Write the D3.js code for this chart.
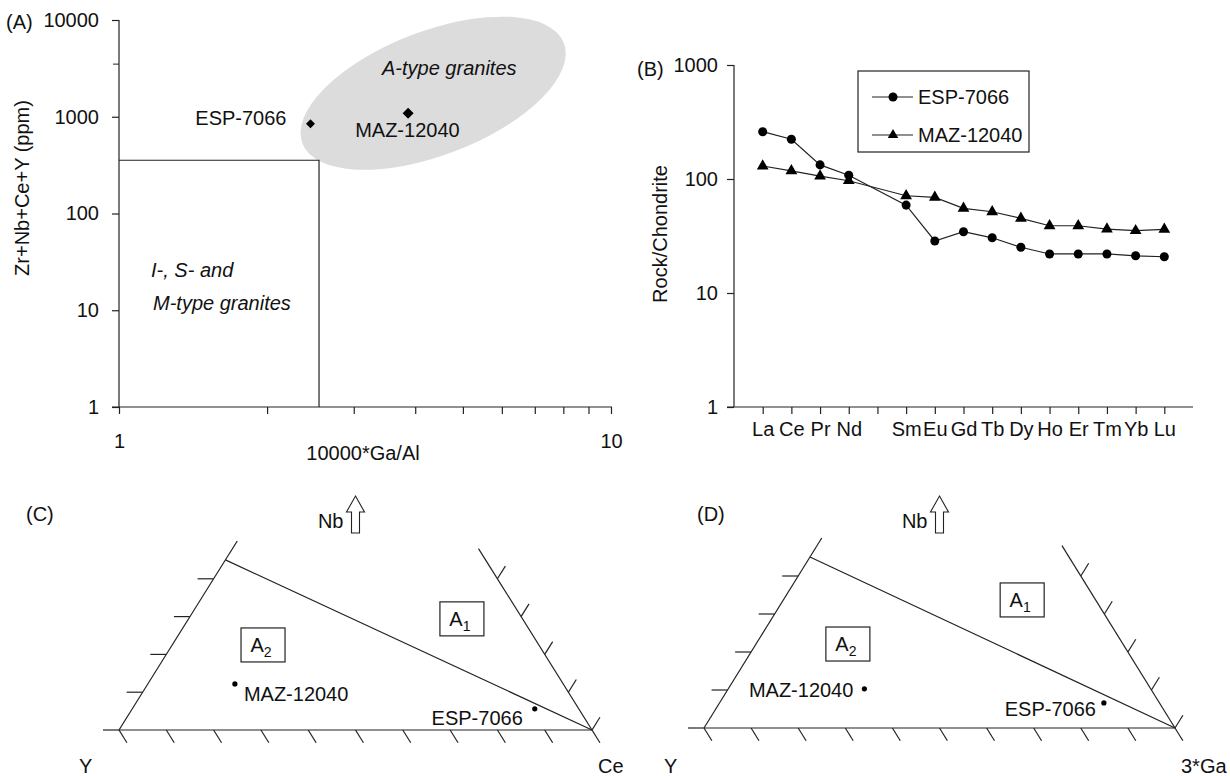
<!DOCTYPE HTML>
<html lang="en">
<head>
    <meta charset="utf-8">
    <title>Granite discrimination diagrams</title>
    <script src="https://cdnjs.cloudflare.com/ajax/libs/d3/7.8.5/d3.min.js"></script>
    <style>
      body { margin: 0; background: #fff; }
      #chart { width: 1230px; height: 776px; }
      text { font-family: "Liberation Sans", Arial, sans-serif; fill: #111; }
    </style>
</head>
<body>
    <div id="chart"></div>
</body>
<script>
// ---- data ----
const sampleNames = ["ESP-7066", "MAZ-12040"];

// (A) Whalen et al. plot
const gaAl = [2.45, 3.87];            // 10000*Ga/Al
const zrNbCeY = [845, 1090];          // Zr+Nb+Ce+Y (ppm)
const gaAlLimit = 2.55;               // I-, S-, M-type field limits
const zrSumLimit = 355;
const aTypeField = { ga: 4.35, zr: 1750 }; // centre of the grey A-type field
const xTicksA = [1, 2, 3, 4, 5, 6, 7, 8, 9, 10];
const xLabelsA = [1, 10];
const yTicksA = [1, 10, 100, 1000, 10000];
const yMinorA = [3500];

// (B) REE pattern, chondrite normalised (Pm left blank)
const reeElements = ["La", "Ce", "Pr", "Nd", "Pm", "Sm", "Eu", "Gd", "Tb", "Dy", "Ho", "Er", "Tm", "Yb", "Lu"];
const reeESP = [260, 223, 133, 108, null, 59, 28.6, 34.5, 30.5, 25.2, 22, 22, 22, 21.2, 20.8];
const reeMAZ = [130, 118, 106, 96.6, null, 71.3, 69, 55.3, 51.6, 45.2, 38.9, 38.9, 36.4, 35.2, 36.2];
const yTicksB = [1, 10, 100, 1000];

// (C) and (D) Eby ternary plots, [Nb, Y, third] fractions
const nbYCe = [[0.056, 0.093, 0.851], [0.122, 0.694, 0.184]];
const nbYGa = [[0.066, 0.118, 0.816], [0.103, 0.608, 0.289]];
const a1a2Boundary = [[0.45, 0.55, 0], [0, 0, 1]];
const ternTicks = [0, 0.1, 0.2, 0.3, 0.4, 0.5, 0.6, 0.7, 0.8, 0.9, 1];
const sideTicks = [0, 0.1, 0.2, 0.3, 0.4];
const fieldLabelsC = [["1", [0.294, 0.128, 0.578]], ["2", [0.225, 0.583, 0.192]]];
const fieldLabelsD = [["1", [0.337, 0.156, 0.507]], ["2", [0.221, 0.584, 0.195]]];

const FS = 20;
const FONT = "Liberation Sans, Arial, sans-serif";

const svg = d3.select("#chart").append("svg")
  .attr("width", 1230).attr("height", 776);

function txt(g, x, y, s, anchor, extra) {
  const t = g.append("text").attr("x", x).attr("y", y)
    .attr("font-size", FS).attr("text-anchor", anchor || "start").text(s);
  if (extra === "italic") t.attr("font-style", "italic");
  return t;
}

function diamond(r) {
  return `M0,${-r}L${r},0L0,${r}L${-r},0Z`;
}

function styleAxis(a) {
  a.select(".domain").remove();
  a.selectAll("line").attr("stroke", "#222").attr("stroke-width", 1.2);
  a.selectAll("text").attr("font-size", FS).attr("font-family", FONT).attr("fill", "#111");
}

// ================= (A) =================
function panelA() {
  const g = svg.append("g");
  const x = d3.scaleLog().domain([1, 10]).range([119, 611]);
  const y = d3.scaleLog().domain([1, 10000]).range([407, 20]);

  // grey A-type field
  const cx = x(aTypeField.ga), cy = y(aTypeField.zr);
  g.append("ellipse")
    .attr("cx", cx).attr("cy", cy).attr("rx", 140).attr("ry", 62)
    .attr("transform", `rotate(-21,${cx},${cy})`)
    .attr("fill", "#dcdcdc");

  // I-, S- and M-type box
  g.append("path")
    .attr("d", `M${x(1)},${y(zrSumLimit)}H${x(gaAlLimit)}V${y(1)}`)
    .attr("fill", "none").attr("stroke", "#222").attr("stroke-width", 1.2);

  // axes
  const yAx = d3.axisLeft(y).tickValues(yTicksA).tickFormat(d3.format("d"))
    .tickSize(7).tickPadding(13);
  const ya = g.append("g").attr("transform", `translate(${x(1)},0)`).call(yAx);
  g.append("g").attr("transform", `translate(${x(1)},0)`)
    .selectAll("line").data(yMinorA).join("line")
    .attr("x1", -6).attr("x2", 0).attr("y1", d => y(d)).attr("y2", d => y(d))
    .attr("stroke", "#222");

  const xAx = d3.axisBottom(x).tickValues(xTicksA)
    .tickFormat(d => xLabelsA.includes(d) ? d : "").tickSize(7).tickPadding(20);
  const xa = g.append("g").attr("transform", `translate(0,${y(1)})`).call(xAx);
  styleAxis(ya);
  styleAxis(xa);
  g.append("line").attr("x1", x(1)).attr("x2", x(1)).attr("y1", y(10000)).attr("y2", y(1))
    .attr("stroke", "#222").attr("stroke-width", 1.2);
  g.append("line").attr("x1", x(1) - 7).attr("x2", x(10) + 1).attr("y1", y(1)).attr("y2", y(1))
    .attr("stroke", "#222").attr("stroke-width", 1.2);

  txt(g, 6, 29, "(A)");
  txt(g, 363, 460, "10000*Ga/Al", "middle");
  txt(g, 0, 0, "Zr+Nb+Ce+Y (ppm)", "middle")
    .attr("transform", "translate(29,188) rotate(-90)");

  txt(g, 382, 75, "A-type granites", "start", "italic");
  txt(g, 151, 277, "I-,  S- and", "start", "italic");
  txt(g, 153, 310, "M-type granites", "start", "italic");

  const pts = sampleNames.map((n, i) => ({ name: n, ga: gaAl[i], zr: zrNbCeY[i] }));
  g.selectAll("path.pt").data(pts).join("path").attr("class", "pt")
    .attr("d", (d, i) => diamond(i === 0 ? 4.5 : 5.5))
    .attr("transform", d => `translate(${x(d.ga)},${y(d.zr)})`)
    .attr("fill", "#000");
  txt(g, x(pts[0].ga) - 24, y(pts[0].zr) + 1, pts[0].name, "end");
  txt(g, x(pts[1].ga) - 53, y(pts[1].zr) + 24, pts[1].name, "start");
}

// ================= (B) =================
function panelB() {
  const g = svg.append("g");
  const x = d3.scalePoint().domain(reeElements).range([734, 1193]).padding(1);
  const y = d3.scaleLog().domain([1, 1000]).range([407, 65]);

  const yAx = d3.axisLeft(y).tickValues(yTicksB).tickFormat(d3.format("d"))
    .tickSize(7).tickPadding(9);
  const ya = g.append("g").attr("transform", "translate(734,0)").call(yAx);
  const xAx = d3.axisBottom(x).tickFormat(d => d === "Pm" ? "" : d)
    .tickSize(7).tickPadding(8);
  const xa = g.append("g").attr("transform", `translate(0,${y(1)})`).call(xAx);
  styleAxis(ya);
  styleAxis(xa);
  g.append("line").attr("x1", 734).attr("x2", 734).attr("y1", y(1000)).attr("y2", y(1))
    .attr("stroke", "#222").attr("stroke-width", 1.2);
  g.append("line").attr("x1", 727).attr("x2", 1193).attr("y1", y(1)).attr("y2", y(1))
    .attr("stroke", "#222").attr("stroke-width", 1.2);

  txt(g, 637, 76, "(B)");
  txt(g, 0, 0, "Rock/Chondrite", "middle").attr("transform", "translate(667,234) rotate(-90)");

  const series = [
    { name: sampleNames[0], vals: reeESP, sym: d3.symbolCircle, size: 64 },
    { name: sampleNames[1], vals: reeMAZ, sym: d3.symbolTriangle, size: 60 }
  ];
  const line = d3.line().x(d => x(d.el)).y(d => y(d.v));
  series.forEach(s => {
    const pts = reeElements.map((el, i) => ({ el, v: s.vals[i] })).filter(d => d.v != null);
    g.append("path").attr("d", line(pts)).attr("fill", "none")
      .attr("stroke", "#222").attr("stroke-width", 1.2);
    g.selectAll(null).data(pts).join("path")
      .attr("d", d3.symbol().type(s.sym).size(s.size))
      .attr("transform", d => `translate(${x(d.el)},${y(d.v)})`)
      .attr("fill", "#000");
  });

  // legend
  const lg = g.append("g").attr("transform", "translate(858,71)");
  lg.append("rect").attr("width", 171).attr("height", 81)
    .attr("fill", "#fff").attr("stroke", "#222").attr("stroke-width", 1.2);
  series.forEach((s, i) => {
    const ry = 26 + i * 38;
    lg.append("line").attr("x1", 14).attr("x2", 55).attr("y1", ry).attr("y2", ry)
      .attr("stroke", "#222").attr("stroke-width", 1.2);
    lg.append("path").attr("d", d3.symbol().type(s.sym).size(i ? 48 : 64))
      .attr("transform", `translate(35,${ry})`).attr("fill", "#000");
    txt(lg, 60, ry + 7, s.name);
  });
}

// ================= (C), (D) ternary =================
function ternaryPanel(o) {
  const g = svg.append("g");
  const bx = d3.scaleLinear().domain([0, 1]).range([o.x0, o.x1]);
  const hy = d3.scaleLinear().domain([0, 1]).range([o.base, o.base - o.h]);
  // [nb, y, third] -> pixel
  const P = d => [bx(d[2] + d[0] / 2), hy(d[0])];
  const W = o.x1 - o.x0;
  const len = Math.hypot(W / 2, o.h);
  const dr = [W / 2 / len, o.h / len];   // apex -> third corner
  const tl = 15;
  const stroke = s => s.attr("stroke", "#222").attr("stroke-width", 1.2).attr("fill", "none");

  const seg = (a, b) => stroke(g.append("line")
    .attr("x1", a[0]).attr("y1", a[1]).attr("x2", b[0]).attr("y2", b[1]));

  // sides
  seg(P([0, 1, 0]), P([0, 0, 1]));
  seg(P([0, 1, 0]), P([0.5, 0.5, 0]));
  seg(P([0, 0, 1]), P([0.48, 0, 0.52]));
  // A1 / A2 boundary
  seg(P(a1a2Boundary[0]), P(a1a2Boundary[1]));

  // ticks
  ternTicks.forEach(t => {
    const p = P([0, 1 - t, t]);
    seg(p, [p[0] + dr[0] * tl, p[1] + dr[1] * tl]);
  });
  sideTicks.forEach(t => {
    const p = P([t, 1 - t, 0]);
    seg(p, [p[0] - 16, p[1]]);
    const q = P([t, 0, 1 - t]);
    seg(q, [q[0] + dr[0] * tl, q[1] - dr[1] * tl]);
  });

  // field labels
  o.fields.forEach(([sub, comp]) => {
    const [cx, cy] = P(comp);
    g.append("rect").attr("x", cx - 22).attr("y", cy - 17).attr("width", 44).attr("height", 34)
      .attr("fill", "#fff").attr("stroke", "#222").attr("stroke-width", 1.2);
    const t = txt(g, cx - 2, cy + 7, "A", "middle");
    t.append("tspan").attr("font-size", 14).attr("dy", 5).text(sub);
  });

  // samples
  const pts = sampleNames.map((n, i) => ({ name: n, p: P(o.data[i]) }));
  g.selectAll("circle").data(pts).join("circle")
    .attr("cx", d => d.p[0]).attr("cy", d => d.p[1]).attr("r", 2.6).attr("fill", "#000");
  o.labels.forEach((l, i) => {
    txt(g, pts[i].p[0] + l[0], pts[i].p[1] + l[1], pts[i].name, l[2]);
  });

  // corner and panel labels
  txt(g, o.x0 - 40, 773, "Y");
  txt(g, o.cornerX, 773, o.corner);
  txt(g, o.tagX, 521, o.tag);
  const ax = bx(0.5);
  txt(g, ax - 12, 528, "Nb", "end");
  g.append("path")
    .attr("d", `M${ax},496 l9,16 h-5 v21 h-8 v-21 h-5 Z`)
    .attr("fill", "#fff").attr("stroke", "#222").attr("stroke-width", 1.1);
}

panelA();
panelB();
ternaryPanel({
  x0: 119, x1: 592, base: 730, h: 378, data: nbYCe, fields: fieldLabelsC,
  labels: [[-12, 16, "end"], [9, 17, "start"]],
  corner: "Ce", cornerX: 598, tag: "(C)", tagX: 26
});
ternaryPanel({
  x0: 704, x1: 1175, base: 728, h: 380, data: nbYGa, fields: fieldLabelsD,
  labels: [[-8, 13, "end"], [-11, 8, "end"]],
  corner: "3*Ga", cornerX: 1181, tag: "(D)", tagX: 697
});
</script>
</html>
